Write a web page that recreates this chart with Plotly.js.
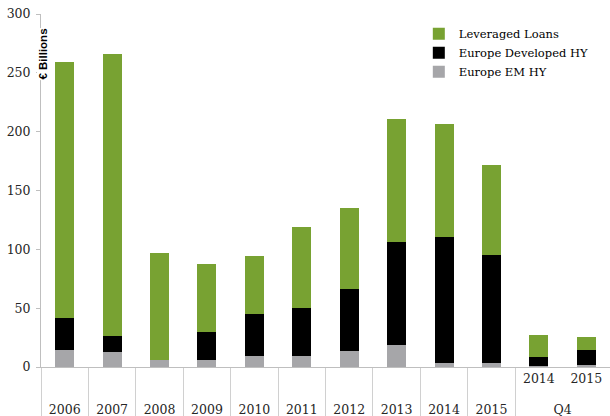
<!DOCTYPE html>
<html>
<head>
<meta charset="utf-8">
<script src="https://cdn.plot.ly/plotly-3.0.1.min.js"></script>
<style>
  html, body { margin: 0; padding: 0; background: #fff; }
  #chart { width: 610px; height: 416px; }
</style>
</head>
<body>
<div id="chart"></div>
<script>
// outer row / inner row of the category axis
var outer_labels = ['2006', '2007', '2008', '2009', '2010', '2011', '2012', '2013', '2014', '2015', 'Q4', 'Q4'];
var inner_labels = [' ', '  ', '   ', '    ', '     ', '      ', '       ', '        ', '         ', '          ',
  '2014<br><span style="font-size:6px"> </span>', '2015<br><span style="font-size:6px"> </span>'];

var europe_em_hy = [14.4, 13.0, 5.9, 5.9, 9.0, 9.6, 13.6, 18.4, 3.7, 3.4, 0.9, 2.0];
var europe_dev_hy = [27.5, 13.3, 0, 23.8, 35.7, 40.5, 52.7, 87.5, 107.0, 92.0, 7.6, 12.7];
var leveraged_loans = [217.3, 240.0, 91.0, 58.1, 49.3, 68.5, 69.1, 104.5, 95.5, 76.3, 18.7, 11.0];

var y_ticks = [0, 50, 100, 150, 200, 250, 300];

var xcats = [outer_labels, inner_labels];

var trace1 = {
  x: xcats,
  y: europe_em_hy,
  type: 'bar',
  name: 'Europe EM HY',
  marker: {color: '#a6a6a9'},
  hoverinfo: 'y+name'
};

var trace2 = {
  x: xcats,
  y: europe_dev_hy,
  type: 'bar',
  name: 'Europe Developed HY',
  marker: {color: '#000000'},
  hoverinfo: 'y+name'
};

var trace3 = {
  x: xcats,
  y: leveraged_loans,
  type: 'bar',
  name: 'Leveraged Loans',
  marker: {color: '#78a232'},
  hoverinfo: 'y+name'
};

var layout = {
  width: 610,
  height: 416,
  margin: {l: 41, r: 0, t: 14, b: 49},
  paper_bgcolor: '#ffffff',
  plot_bgcolor: '#ffffff',
  barmode: 'stack',
  bargap: 0.6,
  font: {family: '"DejaVu Serif", serif', size: 12.5, color: '#262626'},
  showlegend: true,
  legend: {
    x: 0.664, y: 0.985, xanchor: 'left', yanchor: 'top',
    traceorder: 'reversed',
    font: {family: '"DejaVu Serif", serif', size: 11.5, color: '#000'},
    bgcolor: 'rgba(0,0,0,0)'
  },
  xaxis: {
    type: 'multicategory',
    showline: true,
    linecolor: '#bfbfbf',
    linewidth: 1,
    ticks: '',
    tickangle: 0,
    ticklabelstandoff: 0,
    showgrid: false,
    showdividers: true,
    dividercolor: '#d0d0d0',
    dividerwidth: 1,
    tickfont: {size: 12.5, color: '#262626'}
  },
  yaxis: {
    range: [0, 300],
    tickvals: y_ticks,
    showline: true,
    linecolor: '#bfbfbf',
    linewidth: 1,
    ticks: 'outside',
    ticklen: 4,
    tickcolor: '#bfbfbf',
    ticklabelstandoff: 3,
    showgrid: false,
    zeroline: false,
    tickfont: {size: 12.5, color: '#262626'}
  },
  annotations: [{
    text: '<b>€ Billions</b>',
    xref: 'paper', yref: 'paper',
    x: 0, y: 0.885,
    xanchor: 'center', yanchor: 'middle',
    xshift: 2,
    textangle: -90,
    showarrow: false,
    bgcolor: '#ffffff',
    borderpad: 0,
    font: {family: '"Liberation Sans", sans-serif', size: 11.5, color: '#000'}
  }]
};

var data = [trace1, trace2, trace3];

Plotly.newPlot('chart', data, layout, {displayModeBar: false});
</script>
</body>
</html>
